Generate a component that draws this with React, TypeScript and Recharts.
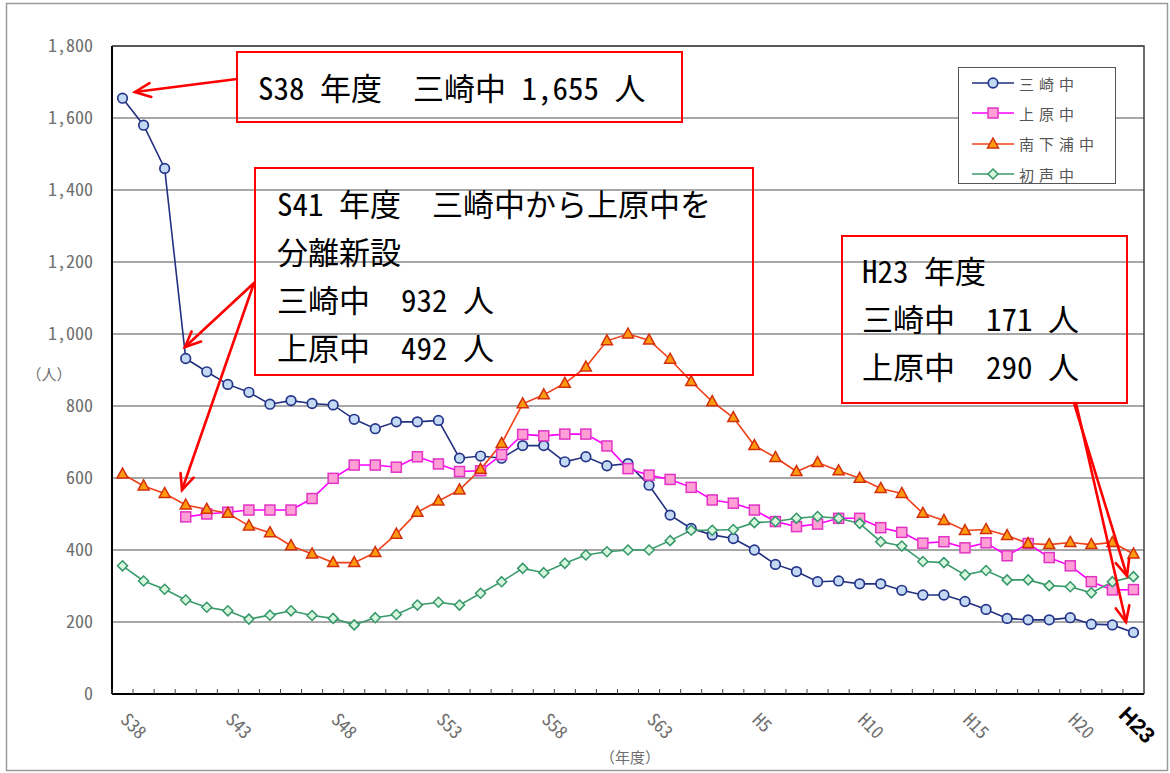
import React from "react";
import { CartesianGrid, Legend, Line, LineChart, XAxis, YAxis } from "recharts";

const years = [
  "S38", "S39", "S40", "S41", "S42", "S43", "S44", "S45", "S46", "S47",
  "S48", "S49", "S50", "S51", "S52", "S53", "S54", "S55", "S56", "S57",
  "S58", "S59", "S60", "S61", "S62", "S63", "H1", "H2", "H3", "H4",
  "H5", "H6", "H7", "H8", "H9", "H10", "H11", "H12", "H13", "H14",
  "H15", "H16", "H17", "H18", "H19", "H20", "H21", "H22", "H23",
];

const labeledYears = ["S38", "S43", "S48", "S53", "S58", "S63", "H5", "H10", "H15", "H20", "H23"];
const yTicks = [0, 200, 400, 600, 800, 1000, 1200, 1400, 1600, 1800];

// 三崎中
const misaki = [
  1655, 1580, 1460, 932, 895, 860, 838, 805, 815, 807, 803, 763, 737, 756, 756, 760,
  655, 661, 655, 690, 690, 645, 659, 634, 640, 580,
  497, 460, 442, 432, 400, 360, 340, 312, 314, 306, 306, 288, 275, 275, 257, 235,
  210, 206, 206, 212, 194, 192, 171,
];
// 上原中 (S41 分離新設)
const kamihara = [
  null, null, null, 492, 500, 505, 511, 511, 511, 543, 599, 636, 636, 630, 659, 639,
  618, 620, 665, 721, 717, 722, 722, 689, 626, 608,
  596, 574, 539, 530, 511, 479, 465, 472, 488, 488, 462, 449, 419, 423, 406, 420,
  384, 418, 379, 356, 312, 289, 290,
];
// 南下浦中
const minamishitaura = [
  611, 578, 557, 525, 513, 502, 467, 448, 412, 389, 365, 365, 393, 444, 505, 536,
  567, 624, 696, 806, 831, 863, 908, 981, 1000, 983,
  930, 868, 812, 768, 690, 657, 618, 643, 620, 599, 571, 557, 502, 482, 454, 457,
  440, 418, 415, 421, 415, 421, 389,
];
// 初声中
const hatsuse = [
  356, 314, 291, 261, 241, 231, 208, 219, 231, 218, 210, 192, 212, 221, 247, 255,
  247, 280, 312, 349, 337, 363, 386, 395, 400, 400,
  426, 455, 455, 457, 476, 479, 488, 493, 488, 474, 423, 411, 368, 365, 331, 343,
  317, 317, 301, 298, 281, 312, 326,
];

const data = years.map((y, i) => ({
  year: y,
  misaki: misaki[i],
  kamihara: kamihara[i],
  minamishitaura: minamishitaura[i],
  hatsuse: hatsuse[i],
}));

const W = 1170;
const H = 773;
const PLOT = { left: 112, top: 46, right: 1144, bottom: 694 };
const BAND = (PLOT.right - PLOT.left) / years.length;

const MONO = '"Noto Sans Mono CJK JP", "Noto Sans CJK JP", sans-serif';
const JP = '"Noto Sans CJK JP", sans-serif';

const series = [
  { key: "misaki", name: "三崎中", line: "#22307f", fill: "#c4daf4", stroke: "#24358a", shape: "circle" },
  { key: "kamihara", name: "上原中", line: "#ff00ff", fill: "#ff9fd6", stroke: "#e233c4", shape: "square" },
  { key: "minamishitaura", name: "南下浦中", line: "#f0401a", fill: "#ff9a10", stroke: "#d2300c", shape: "triangle" },
  { key: "hatsuse", name: "初声中", line: "#3a9a6a", fill: "#d6f7dc", stroke: "#35966a", shape: "diamond" },
];

function Marker({ shape, cx, cy, fill, stroke }: any) {
  if (shape === "circle")
    return <circle cx={cx} cy={cy} r={4.8} fill={fill} stroke={stroke} strokeWidth={1.7} />;
  if (shape === "square")
    return <rect x={cx - 5} y={cy - 5} width={10} height={10} fill={fill} stroke={stroke} strokeWidth={1.5} />;
  if (shape === "triangle")
    return (
      <polygon
        points={`${cx},${cy - 6} ${cx + 5.5},${cy + 4} ${cx - 5.5},${cy + 4}`}
        fill={fill}
        stroke={stroke}
        strokeWidth={1.5}
      />
    );
  return (
    <polygon
      points={`${cx},${cy - 5} ${cx + 5},${cy} ${cx},${cy + 5} ${cx - 5},${cy}`}
      fill={fill}
      stroke={stroke}
      strokeWidth={1.5}
    />
  );
}

const makeDot = (s: any) => (p: any) => {
  if (typeof p.cy !== "number" || Number.isNaN(p.cy) || p.payload?.[s.key] == null) {
    return <g key={p.key} />;
  }
  return (
    <g key={p.key}>
      <Marker shape={s.shape} cx={p.cx} cy={p.cy} fill={s.fill} stroke={s.stroke} />
    </g>
  );
};

function YearTick({ x, y, payload }: any) {
  const label = payload.value as string;
  const last = label === "H23";
  const show = labeledYears.includes(label);
  const tx = last ? x - 16 : x - 3;
  const ty = last ? y + 22 : y + 27;
  return (
    <g>
      <line x1={x - BAND / 2} x2={x - BAND / 2} y1={y} y2={y - 5} stroke="#444" strokeWidth={1} />
      {show && (
        <text
          x={tx}
          y={ty}
          transform={`rotate(45 ${tx} ${ty})`}
          textAnchor="start"
          fontFamily={last ? '"Liberation Sans", Arial, sans-serif' : MONO}
          fontWeight={last ? 700 : 400}
          fontSize={last ? 22 : 18}
          fill={last ? "#000" : "#6e6e6e"}
        >
          {label}
        </text>
      )}
    </g>
  );
}

function LegendBox() {
  return (
    <div
      style={{
        width: 158,
        height: 117,
        border: "1.5px solid #555",
        background: "#fff",
        boxSizing: "border-box",
        paddingTop: 0,
      }}
    >
      {series.map((s) => (
        <div key={s.key} style={{ display: "flex", alignItems: "center", height: 30.3 }}>
          <svg width={52} height={16} style={{ marginLeft: 8 }}>
            <line x1={5} x2={47} y1={8} y2={8} stroke={s.line} strokeWidth={1.6} />
            <Marker shape={s.shape} cx={26} cy={8} fill={s.fill} stroke={s.stroke} />
          </svg>
          <span
            style={{
              fontFamily: JP,
              fontSize: 15,
              letterSpacing: 5,
              color: "#555",
              lineHeight: 1,
            }}
          >
            {s.name}
          </span>
        </div>
      ))}
    </div>
  );
}

function Arrow({ from, to }: { from: [number, number]; to: [number, number] }) {
  const [x1, y1] = from;
  const [x2, y2] = to;
  const a = Math.atan2(y2 - y1, x2 - x1);
  const L = 17;
  const s = 0.42;
  const p1 = `${x2 - L * Math.cos(a - s)},${y2 - L * Math.sin(a - s)}`;
  const p2 = `${x2 - L * Math.cos(a + s)},${y2 - L * Math.sin(a + s)}`;
  return (
    <g stroke="#ff0000" strokeWidth={2.6} fill="none" strokeLinecap="round" strokeLinejoin="miter">
      <line x1={x1} y1={y1} x2={x2} y2={y2} />
      <polyline points={`${p1} ${x2},${y2} ${p2}`} />
    </g>
  );
}

const noteStyle = { fontFamily: MONO, fontSize: 31, fill: "#000" };

export default function App() {
  return (
    <div style={{ position: "absolute", left: 0, top: 0, width: W, height: H, background: "#fff" }}>
      <LineChart
        width={W}
        height={H}
        data={data}
        margin={{ top: PLOT.top, right: W - PLOT.right, bottom: 19, left: PLOT.left - 60 }}
      >
        <CartesianGrid horizontal vertical={false} stroke="#8a8a8a" strokeWidth={1.5} />
        <XAxis
          dataKey="year"
          interval={0}
          height={60}
          padding={{ left: BAND / 2, right: BAND / 2 }}
          tickLine={false}
          tickSize={0}
          tickMargin={0}
          axisLine={{ stroke: "#000", strokeWidth: 2 }}
          tick={<YearTick />}
        />
        <YAxis
          width={60}
          domain={[0, 1800]}
          ticks={yTicks}
          interval={0}
          tickLine={false}
          tickSize={0}
          tickMargin={19}
          axisLine={{ stroke: "#000", strokeWidth: 2 }}
          tick={{ fill: "#6e6e6e", fontSize: 18, fontFamily: MONO }}
          tickFormatter={(v: number) => v.toLocaleString("en-US")}
        />
        <Legend
          layout="vertical"
          align="center"
          verticalAlign="middle"
          content={<LegendBox />}
          wrapperStyle={{ left: 958, top: 67, width: 158, height: 117 }}
        />
        {series.map((s) => (
          <Line
            key={s.key}
            type="linear"
            dataKey={s.key}
            name={s.name}
            stroke={s.line}
            strokeWidth={1.6}
            dot={makeDot(s)}
            activeDot={false}
            isAnimationActive={false}
          />
        ))}
      </LineChart>

      <svg
        width={W}
        height={H}
        style={{ position: "absolute", left: 0, top: 0, pointerEvents: "none" }}
      >
        <rect x={6.5} y={3.5} width={1161} height={767} fill="none" stroke="#9a9a9a" strokeWidth={1.5} />
        <polyline
          points={`${PLOT.left},${PLOT.top} ${PLOT.right},${PLOT.top} ${PLOT.right},${PLOT.bottom}`}
          fill="none"
          stroke="#404040"
          strokeWidth={1.5}
        />
        <text x={49} y={380} textAnchor="middle" fontFamily={JP} fontSize={15} fill="#6e6e6e">
          （人）
        </text>
        <text x={630} y={763} textAnchor="middle" fontFamily={JP} fontSize={15} fill="#6e6e6e">
          （年度）
        </text>

        <rect x={237} y={52} width={445} height={70} fill="none" stroke="#ff0000" strokeWidth={2} />
        <text x={258} y={100} {...noteStyle}>S38 年度　三崎中 1,655 人</text>

        <rect x={255} y={168} width={498} height={207} fill="none" stroke="#ff0000" strokeWidth={2} />
        <text x={277} y={216} {...noteStyle}>S41 年度　三崎中から上原中を</text>
        <text x={277} y={264} {...noteStyle}>分離新設</text>
        <text x={277} y={312} {...noteStyle}>三崎中　932 人</text>
        <text x={277} y={360} {...noteStyle}>上原中　492 人</text>

        <rect x={842} y={236} width={285} height={167} fill="none" stroke="#ff0000" strokeWidth={2} />
        <text x={862} y={283} {...noteStyle}>H23 年度</text>
        <text x={862} y={331} {...noteStyle}>三崎中　171 人</text>
        <text x={862} y={379} {...noteStyle}>上原中　290 人</text>

        <Arrow from={[237, 79]} to={[135, 92]} />
        <Arrow from={[254, 283]} to={[185, 347]} />
        <Arrow from={[254, 283]} to={[182, 490]} />
        <Arrow from={[1074, 403]} to={[1127, 576]} />
        <Arrow from={[1076, 403]} to={[1126, 622]} />
      </svg>
    </div>
  );
}
